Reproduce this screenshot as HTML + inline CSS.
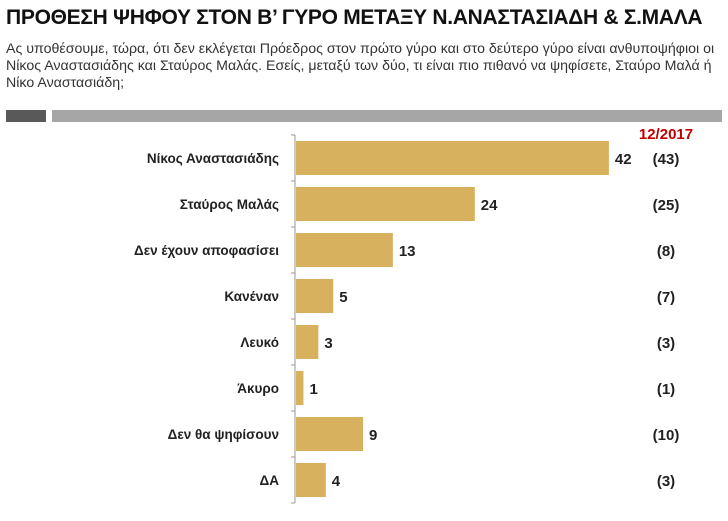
<!DOCTYPE html>
<html><head><meta charset="utf-8"><style>
body{margin:0;background:#fff;width:728px;height:521px;overflow:hidden;font-family:"Liberation Sans",sans-serif;}
#title{position:absolute;left:6px;top:6px;font-size:21px;font-weight:bold;color:#111;letter-spacing:-0.3px;white-space:nowrap;}
#sub{position:absolute;left:6px;top:41px;font-size:14.2px;line-height:17px;color:#333;white-space:nowrap;}
</style></head><body>
<div id="title">ΠΡΟΘΕΣΗ ΨΗΦΟΥ ΣΤΟΝ Β’ ΓΥΡΟ ΜΕΤΑΞΥ Ν.ΑΝΑΣΤΑΣΙΑΔΗ &amp; Σ.ΜΑΛΑ</div>
<div id="sub">Ας υποθέσουμε, τώρα, ότι δεν εκλέγεται Πρόεδρος στον πρώτο γύρο και στο δεύτερο γύρο είναι ανθυποψήφιοι οι<br>Νίκος Αναστασιάδης και Σταύρος Μαλάς. Εσείς, μεταξύ των δύο, τι είναι πιο πιθανό να ψηφίσετε, Σταύρο Μαλά ή<br>Νίκο Αναστασιάδη;</div>
<div style="position:absolute;left:6px;top:110px;width:40px;height:12px;background:#595959"></div>
<div style="position:absolute;left:52px;top:110px;width:670px;height:12px;background:#a6a6a6"></div>
<svg id="chart" width="728" height="521" style="position:absolute;left:0;top:0"></svg>
<script>
const categories=["Νίκος Αναστασιάδης","Σταύρος Μαλάς","Δεν έχουν αποφασίσει","Κανέναν","Λευκό","Άκυρο","Δεν θα ψηφίσουν","ΔΑ"];
const values=[42,24,13,5,3,1,9,4];
const previous=["(43)","(25)","(8)","(7)","(3)","(1)","(10)","(3)"];
const periodLabel="12/2017";
const NS="http://www.w3.org/2000/svg";
const svg=document.getElementById('chart');
const x0=295,scale=7.45,top0=135,band=46;
function xs(v){return x0+v*scale;}
function yb(i){return top0+i*band;}
function mk(t,a){const e=document.createElementNS(NS,t);for(const k in a)e.setAttribute(k,a[k]);svg.appendChild(e);return e;}
const per=mk('text',{x:666,y:139,'text-anchor':'middle','font-size':15,'font-weight':'bold',fill:'#c00000','font-family':'Liberation Sans, sans-serif'});
per.textContent=periodLabel;


const ax=mk('line',{x1:x0,y1:top0,x2:x0,y2:top0+band*categories.length,stroke:'#999','stroke-width':1});


for(let i=0;i<=categories.length;i++){
 const t=mk('line',{x1:x0-4,y1:yb(i),x2:x0,y2:yb(i),stroke:'#999'});
 
 
}
categories.forEach((c,i)=>{
 const cy=yb(i)+band/2;
 const r=mk('rect',{x:x0+1,y:yb(i)+6,width:xs(values[i])-x0,height:34,fill:'#d8b15e'});
 
 
 const l=mk('text',{x:279,y:cy+5,'text-anchor':'end','font-size':13.5,'font-weight':'bold',fill:'#222','font-family':'Liberation Sans, sans-serif'});
 l.textContent=c;
 
 
 const v=mk('text',{x:xs(values[i])+7,y:cy+6,'font-size':15,'font-weight':'bold',fill:'#222','font-family':'Liberation Sans, sans-serif'});
 v.textContent=values[i];
 
 
 const p=mk('text',{x:666,y:cy+6,'text-anchor':'middle','font-size':15,'font-weight':'bold',fill:'#222','font-family':'Liberation Sans, sans-serif'});
 p.textContent=previous[i];
 
 
});
</script>
</body></html>
